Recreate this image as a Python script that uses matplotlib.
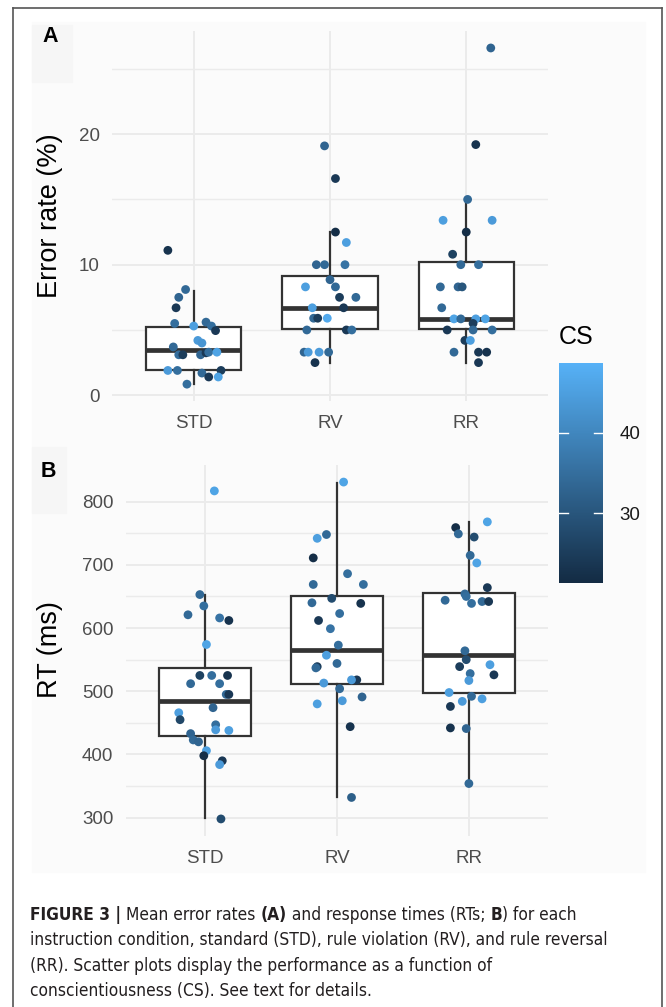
import matplotlib
matplotlib.use("Agg")
import matplotlib.pyplot as plt
from matplotlib import font_manager
from matplotlib.colors import LinearSegmentedColormap, Normalize
from matplotlib.cm import ScalarMappable
from matplotlib.lines import Line2D
from matplotlib.patches import Rectangle

# ---- data -------------------------------------------------------------
conditions = ["STD", "RV", "RR"]

# error rates (%), horizontal jitter and conscientiousness score per subject
err_std = [11.1, 8.1, 7.5, 6.7, 5.5, 5.3, 5.6, 5.3, 4.95, 4.2, 4.0, 3.7, 3.1,
           3.1, 3.1, 3.25, 3.3, 3.3, 1.9, 1.9, 1.7, 1.4, 1.9, 1.4, 0.85]
err_std_dx = [-0.19, -0.06, -0.11, -0.13, -0.14, 0.00, 0.09, 0.13, 0.16, 0.03,
              0.06, -0.15, -0.11, -0.08, 0.05, 0.09, 0.11, 0.17, -0.19, -0.12,
              0.06, 0.11, 0.20, 0.18, -0.05]
err_std_cs = [23, 34, 33, 24, 35, 45, 34, 35, 24, 44, 43, 34, 35, 25, 33, 24,
              35, 46, 44, 35, 34, 24, 25, 46, 35]

err_rv = [19.1, 16.6, 12.5, 11.7, 10.0, 10.0, 10.0, 8.85, 8.3, 8.3, 7.5, 7.5,
          6.7, 6.7, 5.9, 5.9, 5.9, 5.0, 5.0, 5.0, 3.3, 3.3, 3.3, 3.3, 2.5]
err_rv_dx = [-0.04, 0.04, 0.04, 0.12, -0.10, -0.04, 0.11, 0.00, 0.04, -0.18,
             0.07, 0.19, -0.13, 0.10, -0.12, -0.09, -0.02, -0.17, 0.12, 0.16,
             -0.19, -0.16, -0.08, -0.01, -0.11]
err_rv_cs = [33, 24, 22, 45, 33, 34, 36, 33, 34, 45, 25, 34, 45, 24, 34, 25,
             47, 34, 24, 35, 33, 44, 44, 34, 23]

err_rr = [26.6, 19.2, 15.0, 13.4, 13.4, 12.5, 10.8, 10.0, 10.0, 8.3, 8.3, 8.3,
          6.7, 5.85, 5.85, 5.85, 5.85, 5.5, 5.0, 5.0, 5.0, 4.2, 4.2, 3.3, 3.3,
          3.3, 2.5]
err_rr_dx = [0.18, 0.07, 0.01, -0.17, 0.19, 0.00, -0.10, -0.04, 0.09, -0.19,
             -0.06, -0.03, -0.18, -0.09, -0.04, 0.07, 0.14, 0.05, -0.14, 0.05,
             0.19, -0.01, 0.03, -0.09, 0.09, 0.15, 0.09]
err_rr_cs = [33, 23, 34, 45, 44, 22, 26, 34, 35, 34, 33, 30, 34, 46, 34, 45,
             46, 25, 24, 34, 35, 25, 45, 34, 24, 23, 24]

# response times (ms)
rt_std = [817, 653, 635, 621, 616, 612, 574, 525, 525, 525, 512, 512, 495, 495,
          474, 466, 455, 447, 439, 438, 433, 423, 420, 406, 398, 390, 384, 298]
rt_std_dx = [0.07, -0.04, -0.01, -0.13, 0.11, 0.18, 0.01, -0.04, 0.05, 0.17,
             -0.11, 0.11, 0.16, 0.18, 0.06, -0.20, -0.19, 0.08, 0.08, 0.18,
             -0.11, -0.09, -0.05, 0.01, -0.01, 0.13, 0.11, 0.12]
rt_std_cs = [46, 34, 35, 34, 36, 23, 46, 26, 35, 23, 34, 35, 34, 24, 33, 45,
             27, 35, 44, 45, 33, 34, 33, 45, 22, 24, 44, 28]

rt_rv = [831, 748, 742, 711, 686, 669, 669, 647, 640, 639, 623, 612, 599, 573,
         557, 544, 539, 537, 518, 518, 513, 504, 491, 485, 480, 444, 332]
rt_rv_dx = [0.05, -0.08, -0.15, -0.18, 0.08, -0.18, 0.20, -0.04, -0.19, 0.18,
            0.02, -0.14, -0.05, 0.01, -0.08, 0.00, -0.15, -0.16, 0.15, 0.11,
            -0.10, 0.02, 0.19, 0.04, -0.15, 0.10, 0.11]
rt_rv_cs = [46, 34, 45, 22, 35, 34, 35, 28, 34, 23, 35, 24, 36, 35, 45, 34,
            25, 34, 24, 44, 44, 34, 33, 44, 45, 23, 32]

rt_rr = [768, 759, 749, 744, 715, 703, 664, 654, 650, 644, 639, 642, 642, 564,
         550, 539, 542, 528, 526, 517, 498, 492, 484, 488, 476, 442, 441, 354]
rt_rr_dx = [0.14, -0.10, -0.08, 0.04, 0.01, 0.06, 0.14, -0.03, -0.02, -0.18,
            0.02, 0.10, 0.15, -0.03, -0.02, -0.07, 0.16, 0.01, 0.19, 0.00,
            -0.15, 0.02, -0.05, 0.10, -0.14, -0.14, -0.02, 0.00]
rt_rr_cs = [46, 22, 34, 28, 34, 46, 24, 34, 35, 34, 35, 34, 24, 34, 28, 25,
            45, 35, 24, 44, 45, 34, 44, 45, 24, 23, 33, 34]

# box summaries: lower whisker, q1, median, q3, upper whisker
err_box_std = [0.9, 1.9, 3.5, 5.2, 8.0]
err_box_rv = [2.5, 5.05, 6.7, 9.1, 12.5]
err_box_rr = [2.5, 5.05, 5.85, 10.2, 15.0]
rt_box_std = [300, 430, 484, 537, 653]
rt_box_rv = [333, 512, 566, 651, 830]
rt_box_rr = [354, 498, 558, 656, 768]

cs_min, cs_max = 21.3, 48.7

caption_lines = [
    [("FIGURE 3", "bold"), (" | ", "bold"), ("Mean error rates ", "normal"),
     ("(A)", "bold"), (" and response times (RTs; ", "normal"), ("B", "bold"),
     (") for each", "normal")],
    [("instruction condition, standard (STD), rule violation (RV), and rule reversal", "normal")],
    [("(RR). Scatter plots display the performance as a function of", "normal")],
    [("conscientiousness (CS). See text for details.", "normal")],
]

# ---- styling ------------------------------------------------------------
plt.rcParams["font.family"] = ["Liberation Sans", "DejaVu Sans"]

W, H = 666, 1007
fig = plt.figure(figsize=(W / 100, H / 100), dpi=100)
fig.patch.set_facecolor("white")

cmap = LinearSegmentedColormap.from_list("cs", ["#132B43", "#56B1F7"])
norm = Normalize(cs_min, cs_max)
GRID = "#EBEBEB"
BOXC = "#333333"


def px_rect(x0, y0, x1, y1):
    # pixel box (top-left origin) -> figure fraction [left, bottom, w, h]
    return [x0 / W, 1 - y1 / H, (x1 - x0) / W, (y1 - y0) / H]


# light backdrop of the plotting region and the panel-tag tiles
fig.add_artist(Rectangle((32 / W, 1 - 872 / H), 613 / W, 850 / H,
                         transform=fig.transFigure, color="#FBFBFB", zorder=0))
for x0, y0, x1, y1 in [(32, 25, 72, 82), (32, 447, 66, 513)]:
    l, b, w, h = px_rect(x0, y0, x1, y1)
    fig.add_artist(Rectangle((l, b), w, h, transform=fig.transFigure,
                             color="#F6F6F6", zorder=0))

# outer frame of the figure
frame = dict(color="#555555", lw=1.2, transform=fig.transFigure)
fig.add_artist(Line2D([12.5 / W, 12.5 / W], [0, 1 - 7.5 / H], **frame))
fig.add_artist(Line2D([12.5 / W, 661.5 / W], [1 - 7.5 / H, 1 - 7.5 / H], **frame))
fig.add_artist(Line2D([661.5 / W, 661.5 / W], [0, 1 - 7.5 / H], **frame))


def draw_panel(ax, values, offsets, scores, boxes, ylim, major, minor):
    ax.set_facecolor("none")
    for s in ax.spines.values():
        s.set_visible(False)

    stats = []
    for b in boxes:
        stats.append(dict(whislo=b[0], q1=b[1], med=b[2], q3=b[3],
                          whishi=b[4], fliers=[]))
    ax.bxp(stats, positions=[1, 2, 3], widths=0.7, showfliers=False,
           showcaps=False, patch_artist=True,
           boxprops=dict(facecolor="white", edgecolor=BOXC, lw=1.6),
           whiskerprops=dict(color=BOXC, lw=1.6),
           medianprops=dict(color=BOXC, lw=3.4, solid_capstyle="butt"),
           zorder=2)

    for i, (v, dx, c) in enumerate(zip(values, offsets, scores)):
        xs = [i + 1 + d for d in dx]
        ax.scatter(xs, v, c=c, cmap=cmap, norm=norm, s=40, linewidths=0,
                   zorder=3)

    ax.set_xlim(0.4, 3.6)
    ax.set_ylim(*ylim)
    ax.set_xticks([1, 2, 3])
    ax.set_xticklabels(conditions)
    ax.set_yticks(major)
    ax.set_yticks(minor, minor=True)
    ax.tick_params(axis="both", which="both", length=0, labelsize=13.5,
                   labelcolor="#4D4D4D")
    ax.tick_params(axis="x", pad=10)
    ax.tick_params(axis="y", pad=9)
    ax.grid(True, which="major", color=GRID, lw=1.4)
    ax.grid(True, which="minor", axis="y", color=GRID, lw=1.0)
    ax.set_axisbelow(True)


ax_a = fig.add_axes(px_rect(112, 31, 548, 401))
draw_panel(ax_a, [err_std, err_rv, err_rr],
           [err_std_dx, err_rv_dx, err_rr_dx],
           [err_std_cs, err_rv_cs, err_rr_cs],
           [err_box_std, err_box_rv, err_box_rr],
           (-0.44, 27.9), [0, 10, 20], [5, 15, 25])

ax_b = fig.add_axes(px_rect(126, 465, 548, 836))
draw_panel(ax_b, [rt_std, rt_rv, rt_rr],
           [rt_std_dx, rt_rv_dx, rt_rr_dx],
           [rt_std_cs, rt_rv_cs, rt_rr_cs],
           [rt_box_std, rt_box_rv, rt_box_rr],
           (271, 858), [300, 400, 500, 600, 700, 800],
           [350, 450, 550, 650, 750])

# y titles share one vertical line left of the tick labels
fig.text(50 / W, 1 - 216 / H, "Error rate (%)", fontsize=19.5, rotation=90,
         ha="center", va="center")
fig.text(50 / W, 1 - 650 / H, "RT (ms)", fontsize=19.5, rotation=90,
         ha="center", va="center")

fig.text(50 / W, 1 - 36 / H, "A", fontsize=15.5, fontweight="bold",
         ha="center", va="center")
fig.text(48 / W, 1 - 471 / H, "B", fontsize=15.5, fontweight="bold",
         ha="center", va="center")

# colour bar for conscientiousness
cax = fig.add_axes(px_rect(559, 363, 603, 583))
cb = fig.colorbar(ScalarMappable(norm=norm, cmap=cmap), cax=cax,
                  ticks=[30, 40])
cb.outline.set_visible(False)
cax.tick_params(length=0, labelsize=13.5, labelcolor="#1A1A1A", pad=12)
for t in [30, 40]:
    cax.axhline(t, xmin=0, xmax=0.2, color="white", lw=1.0)
    cax.axhline(t, xmin=0.8, xmax=1, color="white", lw=1.0)
fig.text(559 / W, 1 - 337 / H, "CS", fontsize=18, ha="left", va="center")

# caption with bold fragments; prefer a condensed face when one exists
cap_font = {"family": ["Liberation Sans"]}
for fam, stretch in [("Liberation Sans Narrow", "normal"),
                     ("DejaVu Sans", "condensed")]:
    fp = font_manager.FontProperties(family=fam, stretch=stretch)
    try:
        path = font_manager.findfont(fp, fallback_to_default=False)
    except ValueError:
        continue
    if "Narrow" in path or "Condensed" in path:
        cap_font = {"family": [fam], "stretch": stretch}
        break

renderer = fig.canvas.get_renderer()
probe = fig.text(0, 0, caption_lines[1][0][0], fontsize=12, **cap_font)
probe_w = probe.get_window_extent(renderer).width
probe.remove()
cap_size = 12 * 578 / probe_w

for row, y_px in zip(caption_lines, [915, 940, 966, 991]):
    x = 30 / W
    for txt, weight in row:
        t = fig.text(x, 1 - y_px / H, txt, fontsize=cap_size,
                     fontweight=weight, color="#231F20", ha="left",
                     va="center", **cap_font)
        x += t.get_window_extent(renderer).width / W

fig.savefig("out.png", dpi=100)
